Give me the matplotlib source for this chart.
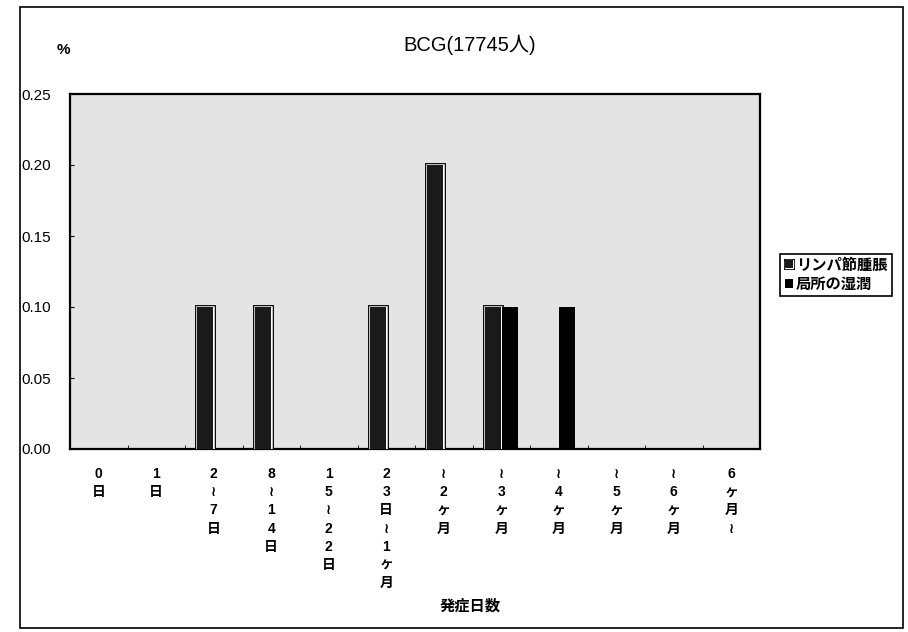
import matplotlib
matplotlib.use("Agg")
import matplotlib.pyplot as plt
import matplotlib.patheffects as pe
from matplotlib.patches import Rectangle
import numpy as np

categories = ["0日", "1日", "2〜7日", "8〜14日", "15〜22日", "23日〜1ヶ月",
              "〜2ヶ月", "〜3ヶ月", "〜4ヶ月", "〜5ヶ月", "〜6ヶ月", "6ヶ月〜"]
lymph = [0, 0, 0.1, 0.1, 0, 0.1, 0.2, 0.1, 0, 0, 0, 0]
wet = [0, 0, 0, 0, 0, 0, 0, 0.1, 0.1, 0, 0, 0]
series_names = ["リンパ節腫脹", "局所の湿潤"]
title = "BCG(17745人)"
xlabel = "発症日数"
yunit = "%"

FAM = ["Liberation Sans", "Noto Sans CJK JP", "DejaVu Sans"]
plt.rcParams["font.family"] = FAM

fig = plt.figure(figsize=(9.08, 6.32), dpi=100)
ax = fig.add_axes([70/908, 1-449/632, (760-70)/908, (449-94)/632])
ax.set_facecolor("#e4e4e4")

x = np.arange(len(categories))
w = 0.28
b1 = ax.bar(x - 0.145, lymph, width=w, color="#1a1a1a", edgecolor="#1a1a1a",
            linewidth=0, label=series_names[0], zorder=3)
for p, v in zip(b1, lymph):
    if v > 0:
        p.set_path_effects([pe.Stroke(linewidth=3.5, foreground="black"),
                            pe.Stroke(linewidth=1.8, foreground="white"),
                            pe.Normal()])
b2 = ax.bar(x + 0.145, wet, width=w, color="black", edgecolor="black",
            linewidth=0, label=series_names[1], zorder=3)

ax.set_xlim(-0.5, len(categories) - 0.5)
ax.set_ylim(0, 0.25)
ax.set_yticks(np.arange(0, 0.2501, 0.05))
ax.set_yticklabels([f"{v:.2f}" for v in np.arange(0, 0.2501, 0.05)],
                   fontsize=11)
ax.tick_params(axis="y", direction="in", length=3, pad=14)

def vert(s):
    return "\n".join("≀" if c == "〜" else c for c in s)

ax.set_xticks(x)
ax.set_xticklabels([vert(c) for c in categories], fontsize=10,
                   linespacing=1.38, va="top", fontweight="bold",
                   family=["Liberation Sans", "DejaVu Sans", "Noto Sans CJK JP"])
ax.tick_params(axis="x", length=0, pad=13)
ax.set_xticks(np.arange(-0.5, len(categories), 1), minor=True)
ax.tick_params(axis="x", which="minor", direction="in", length=3)

for s in ax.spines.values():
    s.set_linewidth(1.6)
    s.set_color("black")

fig.text(470/908, 1-45/632, title, ha="center", va="center", fontsize=14.5)
fig.text(63/908, 1-50/632, yunit, ha="center", va="center", fontsize=11,
         fontweight="bold")
fig.text(470/908, 1-606/632, xlabel, ha="center", va="center", fontsize=11,
         fontweight="bold")

leg = fig.legend(handles=[b1, b2], labels=series_names,
                 loc="center", bbox_to_anchor=(836/908, 1-275/632),
                 frameon=True, fancybox=False, edgecolor="black",
                 framealpha=1, handlelength=0.5, handleheight=0.5,
                 handletextpad=0.2, borderpad=0.3, labelspacing=0.35,
                 prop={"weight": "bold", "size": 11})
leg.get_frame().set_linewidth(1.2)
leg.legend_handles[0].set_path_effects([pe.Stroke(linewidth=2.2, foreground="black"),
                                        pe.Stroke(linewidth=1.0, foreground="white"),
                                        pe.Normal()])

fig.patches.append(Rectangle((20/908, 1-628/632), (903-20)/908, (628-7)/632,
                             transform=fig.transFigure, fill=False,
                             edgecolor="black", linewidth=1.2))

fig.savefig("out.png", dpi=100)
